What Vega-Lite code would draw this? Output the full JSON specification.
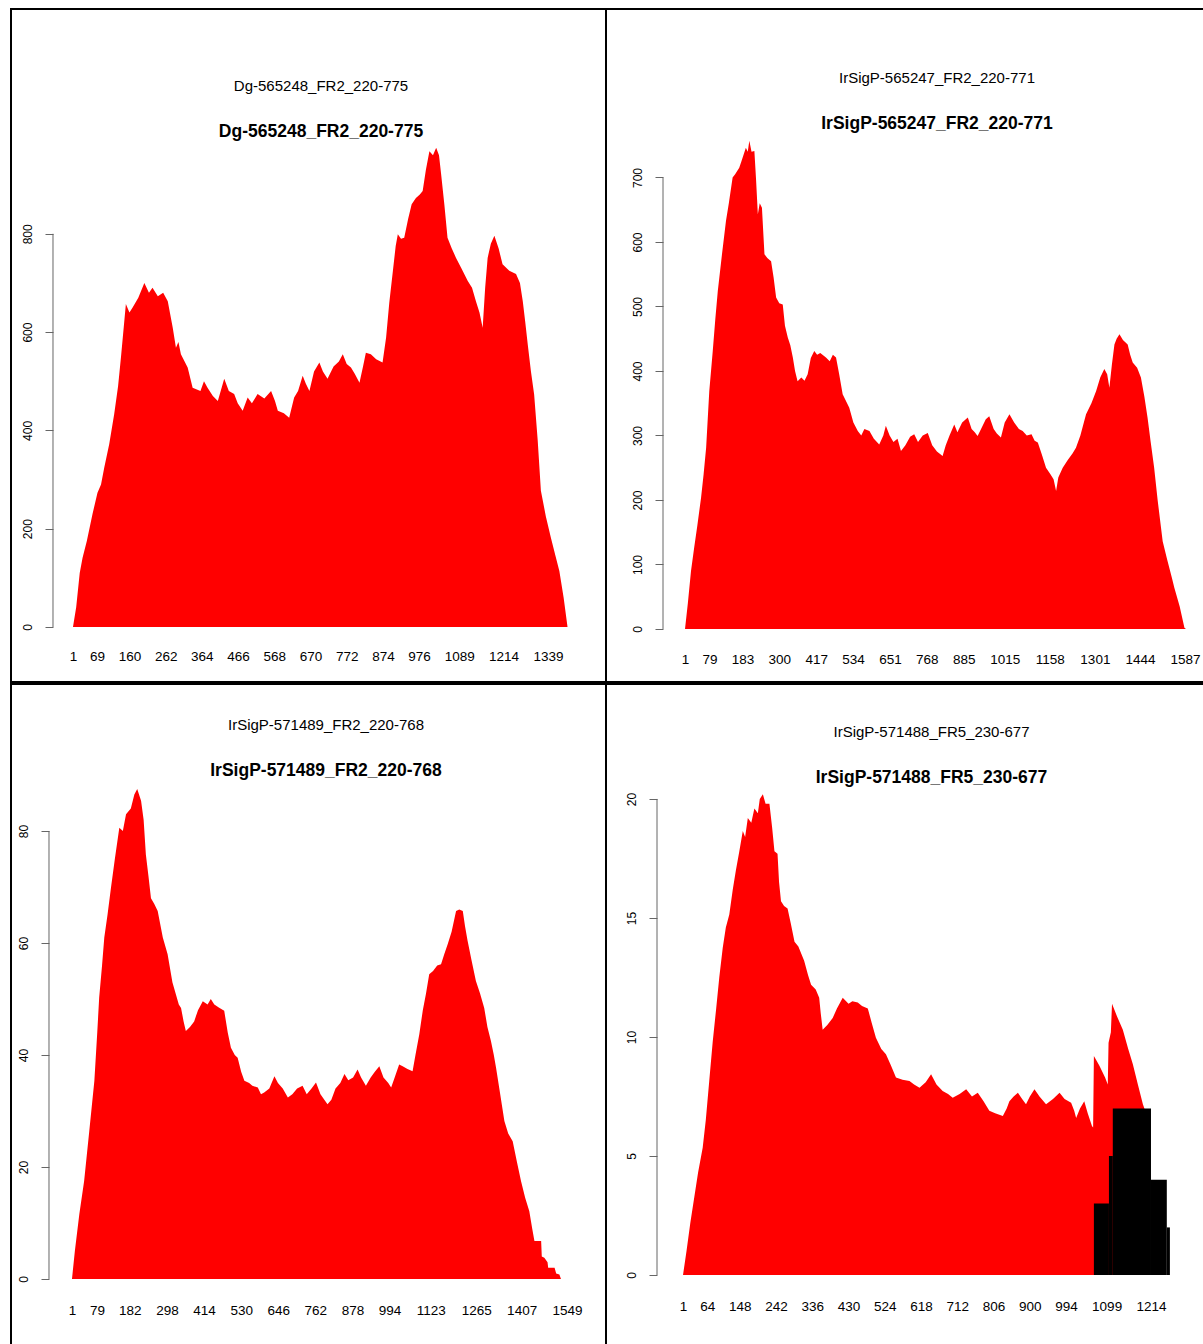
{
  "$schema": "https://vega.github.io/schema/vega-lite/v6.json",
  "background": "white",
  "padding": {"left": 10, "top": 8, "right": 0, "bottom": 0},
  "spacing": 0,
  "config": {
    "view": {"stroke": "#000", "strokeWidth": 2},
    "font": "Liberation Sans",
    "concat": {"spacing": 0},
    "axis": {"labelColor": "#000", "tickColor": "#666", "labelFont": "Liberation Sans", "grid": false, "domain": false, "title": null, "format": "d"},
    "title": {"anchor": "middle", "frame": "group", "font": "Liberation Sans", "subtitleFont": "Liberation Sans", "fontSize": 15, "fontWeight": "normal", "subtitleFontSize": 17.5, "subtitleFontWeight": "bold", "subtitlePadding": 29, "color": "#000", "subtitleColor": "#000"}
  },
  "vconcat": [
    {
      "spacing": 0,
      "bounds": "flush",
      "hconcat": [
        {
          "width": 595, "height": 673,
          "title": {"text": "Dg-565248_FR2_220-775", "subtitle": "Dg-565248_FR2_220-775", "offset": -131, "dx": 12.5},
          "layer": [
            {
              "data": {"values": [
                {"pos":1,"cov":0},{"pos":10,"cov":40},{"pos":20,"cov":110},{"pos":28,"cov":141},{"pos":40,"cov":175},{"pos":56,"cov":230},{"pos":70,"cov":273},{"pos":80,"cov":290},{"pos":89,"cov":324},{"pos":103,"cov":372},{"pos":117,"cov":433},{"pos":128,"cov":490},{"pos":136,"cov":548},{"pos":150,"cov":657},{"pos":160,"cov":640},{"pos":169,"cov":650},{"pos":185,"cov":670},{"pos":202,"cov":700},{"pos":215,"cov":680},{"pos":225,"cov":690},{"pos":240,"cov":673},{"pos":255,"cov":680},{"pos":268,"cov":663},{"pos":282,"cov":609},{"pos":291,"cov":568},{"pos":298,"cov":580},{"pos":305,"cov":555},{"pos":324,"cov":528},{"pos":338,"cov":487},{"pos":360,"cov":480},{"pos":370,"cov":500},{"pos":380,"cov":487},{"pos":395,"cov":470},{"pos":409,"cov":460},{"pos":427,"cov":505},{"pos":440,"cov":480},{"pos":455,"cov":474},{"pos":465,"cov":455},{"pos":479,"cov":440},{"pos":493,"cov":467},{"pos":505,"cov":455},{"pos":521,"cov":474},{"pos":540,"cov":465},{"pos":559,"cov":480},{"pos":570,"cov":460},{"pos":578,"cov":440},{"pos":595,"cov":435},{"pos":610,"cov":426},{"pos":624,"cov":467},{"pos":635,"cov":480},{"pos":648,"cov":511},{"pos":657,"cov":495},{"pos":667,"cov":480},{"pos":680,"cov":520},{"pos":695,"cov":538},{"pos":705,"cov":520},{"pos":718,"cov":505},{"pos":735,"cov":530},{"pos":750,"cov":540},{"pos":761,"cov":555},{"pos":772,"cov":535},{"pos":784,"cov":528},{"pos":795,"cov":515},{"pos":808,"cov":497},{"pos":818,"cov":530},{"pos":826,"cov":558},{"pos":840,"cov":555},{"pos":855,"cov":545},{"pos":873,"cov":538},{"pos":883,"cov":589},{"pos":892,"cov":660},{"pos":902,"cov":724},{"pos":910,"cov":775},{"pos":916,"cov":799},{"pos":925,"cov":790},{"pos":934,"cov":792},{"pos":945,"cov":830},{"pos":955,"cov":860},{"pos":967,"cov":873},{"pos":978,"cov":880},{"pos":986,"cov":887},{"pos":995,"cov":930},{"pos":1005,"cov":968},{"pos":1015,"cov":960},{"pos":1024,"cov":975},{"pos":1032,"cov":960},{"pos":1038,"cov":921},{"pos":1047,"cov":860},{"pos":1056,"cov":792},{"pos":1068,"cov":770},{"pos":1080,"cov":751},{"pos":1095,"cov":730},{"pos":1113,"cov":704},{"pos":1125,"cov":690},{"pos":1136,"cov":663},{"pos":1146,"cov":640},{"pos":1155,"cov":609},{"pos":1162,"cov":690},{"pos":1169,"cov":751},{"pos":1178,"cov":780},{"pos":1188,"cov":796},{"pos":1200,"cov":770},{"pos":1211,"cov":738},{"pos":1230,"cov":725},{"pos":1249,"cov":718},{"pos":1260,"cov":700},{"pos":1268,"cov":663},{"pos":1275,"cov":620},{"pos":1282,"cov":575},{"pos":1291,"cov":520},{"pos":1300,"cov":473},{"pos":1310,"cov":380},{"pos":1319,"cov":277},{"pos":1333,"cov":225},{"pos":1347,"cov":182},{"pos":1360,"cov":145},{"pos":1371,"cov":114},{"pos":1383,"cov":60},{"pos":1394,"cov":0}
              ]},
              "mark": {"type": "area", "color": "#ff0000", "interpolate": "linear"},
              "encoding": {
                "x": {"field": "pos", "type": "quantitative", "scale": {"domain": [-173.6, 1502.4], "nice": false, "zero": false},
                      "axis": {"values": [1,69,160,262,364,466,568,670,772,874,976,1089,1214,1339], "offset": -33, "labelPadding": 0, "ticks": false, "tickSize": 0, "labelFontSize": 13.5, "labelOverlap": false, "labelFlush": false, "labelBound": false}},
                "y": {"field": "cov", "type": "quantitative", "scale": {"domain": [-111.9, 1257.4], "nice": false, "zero": false},
                      "axis": {"values": [0,200,400,600,800], "offset": -42, "tickSize": 8, "labelPadding": 11, "labelAngle": -90, "labelAlign": "center", "labelBaseline": "bottom", "labelFontSize": 12, "labelOverlap": false}},
                "y2": {"datum": 0}
              }
            },
            {
              "data": {"values": [{}]},
              "mark": {"type": "rule", "color": "#666", "strokeWidth": 1},
              "encoding": {"x": {"datum": -55.3}, "y": {"datum": 0}, "y2": {"datum": 800}}
            }
          ]
        },
        {
          "width": 598, "height": 673,
          "title": {"text": "IrSigP-565247_FR2_220-771", "subtitle": "IrSigP-565247_FR2_220-771", "offset": -123, "dx": 32},
          "layer": [
            {
              "data": {"values": [
                {"pos":1,"cov":0},{"pos":10,"cov":40},{"pos":20,"cov":90},{"pos":30,"cov":126},{"pos":40,"cov":160},{"pos":52,"cov":204},{"pos":60,"cov":240},{"pos":68,"cov":281},{"pos":78,"cov":369},{"pos":89,"cov":431},{"pos":97,"cov":480},{"pos":105,"cov":524},{"pos":118,"cov":580},{"pos":131,"cov":633},{"pos":140,"cov":660},{"pos":152,"cov":700},{"pos":160,"cov":705},{"pos":173,"cov":715},{"pos":180,"cov":725},{"pos":194,"cov":746},{"pos":200,"cov":740},{"pos":205,"cov":757},{"pos":212,"cov":740},{"pos":221,"cov":741},{"pos":226,"cov":700},{"pos":232,"cov":643},{"pos":238,"cov":660},{"pos":245,"cov":653},{"pos":253,"cov":581},{"pos":262,"cov":575},{"pos":274,"cov":570},{"pos":282,"cov":545},{"pos":290,"cov":514},{"pos":300,"cov":505},{"pos":311,"cov":503},{"pos":318,"cov":470},{"pos":327,"cov":452},{"pos":335,"cov":440},{"pos":343,"cov":421},{"pos":350,"cov":400},{"pos":358,"cov":384},{"pos":370,"cov":390},{"pos":380,"cov":385},{"pos":390,"cov":395},{"pos":400,"cov":420},{"pos":411,"cov":431},{"pos":420,"cov":425},{"pos":430,"cov":428},{"pos":448,"cov":421},{"pos":460,"cov":415},{"pos":470,"cov":425},{"pos":480,"cov":421},{"pos":490,"cov":395},{"pos":501,"cov":364},{"pos":510,"cov":355},{"pos":522,"cov":343},{"pos":535,"cov":320},{"pos":549,"cov":307},{"pos":560,"cov":300},{"pos":570,"cov":310},{"pos":586,"cov":307},{"pos":600,"cov":295},{"pos":617,"cov":286},{"pos":630,"cov":300},{"pos":638,"cov":315},{"pos":650,"cov":300},{"pos":662,"cov":290},{"pos":675,"cov":295},{"pos":686,"cov":276},{"pos":700,"cov":285},{"pos":715,"cov":298},{"pos":728,"cov":302},{"pos":740,"cov":290},{"pos":755,"cov":300},{"pos":771,"cov":304},{"pos":785,"cov":285},{"pos":800,"cov":275},{"pos":818,"cov":268},{"pos":828,"cov":285},{"pos":840,"cov":300},{"pos":855,"cov":317},{"pos":865,"cov":305},{"pos":880,"cov":320},{"pos":898,"cov":328},{"pos":910,"cov":310},{"pos":920,"cov":305},{"pos":929,"cov":299},{"pos":940,"cov":310},{"pos":955,"cov":325},{"pos":966,"cov":330},{"pos":980,"cov":310},{"pos":990,"cov":303},{"pos":1003,"cov":297},{"pos":1015,"cov":320},{"pos":1030,"cov":333},{"pos":1045,"cov":320},{"pos":1060,"cov":310},{"pos":1072,"cov":307},{"pos":1085,"cov":300},{"pos":1100,"cov":302},{"pos":1110,"cov":292},{"pos":1120,"cov":289},{"pos":1133,"cov":270},{"pos":1146,"cov":250},{"pos":1160,"cov":240},{"pos":1170,"cov":232},{"pos":1178,"cov":214},{"pos":1185,"cov":235},{"pos":1199,"cov":250},{"pos":1215,"cov":262},{"pos":1230,"cov":272},{"pos":1241,"cov":281},{"pos":1255,"cov":300},{"pos":1273,"cov":333},{"pos":1290,"cov":350},{"pos":1305,"cov":369},{"pos":1318,"cov":390},{"pos":1331,"cov":403},{"pos":1340,"cov":395},{"pos":1347,"cov":374},{"pos":1355,"cov":410},{"pos":1363,"cov":441},{"pos":1370,"cov":450},{"pos":1379,"cov":457},{"pos":1390,"cov":448},{"pos":1405,"cov":441},{"pos":1413,"cov":425},{"pos":1421,"cov":413},{"pos":1435,"cov":405},{"pos":1447,"cov":390},{"pos":1458,"cov":360},{"pos":1468,"cov":328},{"pos":1478,"cov":290},{"pos":1489,"cov":250},{"pos":1500,"cov":200},{"pos":1516,"cov":136},{"pos":1530,"cov":108},{"pos":1545,"cov":80},{"pos":1553,"cov":64},{"pos":1570,"cov":35},{"pos":1585,"cov":2},{"pos":1590,"cov":0}
              ]},
              "mark": {"type": "area", "color": "#ff0000", "interpolate": "linear"},
              "encoding": {
                "x": {"field": "pos", "type": "quantitative", "scale": {"domain": [-249.6, 1647.1], "nice": false, "zero": false},
                      "axis": {"values": [1,79,183,300,417,534,651,768,885,1015,1158,1301,1444,1587], "offset": -30, "labelPadding": 0, "ticks": false, "tickSize": 0, "labelFontSize": 13.5, "labelOverlap": false, "labelFlush": false, "labelBound": false}},
                "y": {"field": "cov", "type": "quantitative", "scale": {"domain": [-82.2, 961.2], "nice": false, "zero": false},
                      "axis": {"values": [0,100,200,300,400,500,600,700], "offset": -57, "tickSize": 8, "labelPadding": 11, "labelAngle": -90, "labelAlign": "center", "labelBaseline": "bottom", "labelFontSize": 12, "labelOverlap": false}},
                "y2": {"datum": 0}
              }
            },
            {
              "data": {"values": [{}]},
              "mark": {"type": "rule", "color": "#666", "strokeWidth": 1},
              "encoding": {"x": {"datum": -68.8}, "y": {"datum": 0}, "y2": {"datum": 700}}
            }
          ]
        }
      ]
    },
    {
      "spacing": 0,
      "bounds": "flush",
      "hconcat": [
        {
          "width": 595, "height": 661,
          "title": {"text": "IrSigP-571489_FR2_220-768", "subtitle": "IrSigP-571489_FR2_220-768", "offset": -95, "dx": 17.5},
          "layer": [
            {
              "data": {"values": [
                {"pos":1,"cov":0},{"pos":10,"cov":5},{"pos":24,"cov":11.6},{"pos":39,"cov":17.5},{"pos":55,"cov":26.4},{"pos":71,"cov":35.4},{"pos":80,"cov":44},{"pos":86,"cov":50.2},{"pos":95,"cov":56},{"pos":102,"cov":61},{"pos":112,"cov":65},{"pos":123,"cov":69.9},{"pos":135,"cov":75},{"pos":149,"cov":80.6},{"pos":160,"cov":80},{"pos":170,"cov":83},{"pos":185,"cov":84},{"pos":196,"cov":86.5},{"pos":205,"cov":87.5},{"pos":217,"cov":85.4},{"pos":225,"cov":82},{"pos":232,"cov":75.8},{"pos":240,"cov":72},{"pos":248,"cov":68},{"pos":258,"cov":67},{"pos":269,"cov":65.7},{"pos":285,"cov":61},{"pos":300,"cov":58},{"pos":315,"cov":53},{"pos":326,"cov":50.8},{"pos":335,"cov":49},{"pos":342,"cov":48.4},{"pos":350,"cov":46},{"pos":357,"cov":44.3},{"pos":370,"cov":45},{"pos":383,"cov":46},{"pos":395,"cov":48},{"pos":410,"cov":49.6},{"pos":425,"cov":49},{"pos":435,"cov":50},{"pos":446,"cov":49},{"pos":460,"cov":48.5},{"pos":477,"cov":47.9},{"pos":488,"cov":44},{"pos":498,"cov":41.3},{"pos":510,"cov":40},{"pos":519,"cov":39.5},{"pos":530,"cov":37},{"pos":540,"cov":35.4},{"pos":555,"cov":35},{"pos":565,"cov":34.5},{"pos":582,"cov":34.2},{"pos":592,"cov":33},{"pos":602,"cov":33.3},{"pos":618,"cov":34},{"pos":634,"cov":36.2},{"pos":645,"cov":35},{"pos":660,"cov":34},{"pos":676,"cov":32.4},{"pos":690,"cov":33},{"pos":705,"cov":34},{"pos":722,"cov":34.5},{"pos":735,"cov":33},{"pos":750,"cov":34},{"pos":764,"cov":35.1},{"pos":778,"cov":33},{"pos":790,"cov":32},{"pos":800,"cov":31.2},{"pos":812,"cov":32},{"pos":825,"cov":34},{"pos":840,"cov":35},{"pos":853,"cov":36.6},{"pos":865,"cov":35.5},{"pos":880,"cov":36},{"pos":894,"cov":37.4},{"pos":905,"cov":36},{"pos":920,"cov":34.5},{"pos":935,"cov":36},{"pos":948,"cov":37},{"pos":962,"cov":38},{"pos":975,"cov":36},{"pos":990,"cov":35},{"pos":999,"cov":34.2},{"pos":1010,"cov":36},{"pos":1024,"cov":38.3},{"pos":1035,"cov":38},{"pos":1050,"cov":37.5},{"pos":1066,"cov":37.1},{"pos":1075,"cov":40},{"pos":1087,"cov":43.7},{"pos":1098,"cov":48},{"pos":1108,"cov":51},{"pos":1118,"cov":54.4},{"pos":1130,"cov":55},{"pos":1143,"cov":56},{"pos":1155,"cov":56.2},{"pos":1165,"cov":58},{"pos":1176,"cov":59.8},{"pos":1188,"cov":62},{"pos":1202,"cov":65.7},{"pos":1212,"cov":66},{"pos":1223,"cov":65.7},{"pos":1230,"cov":63},{"pos":1238,"cov":60.4},{"pos":1250,"cov":57},{"pos":1264,"cov":53.2},{"pos":1277,"cov":51},{"pos":1290,"cov":48.4},{"pos":1300,"cov":45},{"pos":1311,"cov":42.5},{"pos":1320,"cov":40},{"pos":1327,"cov":37.7},{"pos":1340,"cov":33},{"pos":1353,"cov":28.2},{"pos":1365,"cov":26},{"pos":1379,"cov":24.6},{"pos":1392,"cov":21},{"pos":1405,"cov":17.5},{"pos":1418,"cov":14.5},{"pos":1431,"cov":12.1},{"pos":1440,"cov":9},{"pos":1447,"cov":6.8},{"pos":1468,"cov":6.8},{"pos":1470,"cov":4},{"pos":1478,"cov":3.8},{"pos":1488,"cov":3},{"pos":1490,"cov":2},{"pos":1510,"cov":2},{"pos":1515,"cov":1},{"pos":1525,"cov":0.8},{"pos":1530,"cov":0}
              ]},
              "mark": {"type": "area", "color": "#ff0000", "interpolate": "linear"},
              "encoding": {
                "x": {"field": "pos", "type": "quantitative", "scale": {"domain": [-189.7, 1670.8], "nice": false, "zero": false},
                      "axis": {"values": [1,79,182,298,414,530,646,762,878,994,1123,1265,1407,1549], "offset": -42, "labelPadding": 0, "ticks": false, "tickSize": 0, "labelFontSize": 13.5, "labelOverlap": false, "labelFlush": false, "labelBound": false}},
                "y": {"field": "cov", "type": "quantitative", "scale": {"domain": [-11.79, 106.25], "nice": false, "zero": false},
                      "axis": {"values": [0,20,40,60,80], "offset": -38, "tickSize": 8, "labelPadding": 11, "labelAngle": -90, "labelAlign": "center", "labelBaseline": "bottom", "labelFontSize": 12, "labelOverlap": false}},
                "y2": {"datum": 0}
              }
            },
            {
              "data": {"values": [{}]},
              "mark": {"type": "rule", "color": "#666", "strokeWidth": 1},
              "encoding": {"x": {"datum": -70.9}, "y": {"datum": 0}, "y2": {"datum": 80}}
            }
          ]
        },
        {
          "width": 598, "height": 661,
          "title": {"text": "IrSigP-571488_FR5_230-677", "subtitle": "IrSigP-571488_FR5_230-677", "offset": -102, "dx": 26.5},
          "layer": [
            {
              "data": {"values": [
                {"pos":1,"cov":0},{"pos":10,"cov":1},{"pos":20,"cov":2.2},{"pos":30,"cov":3.25},{"pos":40,"cov":4.3},{"pos":52,"cov":5.35},{"pos":60,"cov":6.5},{"pos":69,"cov":8.15},{"pos":78,"cov":9.8},{"pos":87,"cov":11.2},{"pos":95,"cov":12.5},{"pos":104,"cov":13.75},{"pos":112,"cov":14.6},{"pos":121,"cov":15.15},{"pos":130,"cov":16.2},{"pos":138,"cov":17},{"pos":147,"cov":17.8},{"pos":156,"cov":18.65},{"pos":162,"cov":18.4},{"pos":169,"cov":19.2},{"pos":178,"cov":19},{"pos":186,"cov":19.6},{"pos":195,"cov":19.4},{"pos":200,"cov":20},{"pos":208,"cov":20.2},{"pos":215,"cov":19.8},{"pos":225,"cov":19.8},{"pos":232,"cov":18.8},{"pos":238,"cov":17.8},{"pos":246,"cov":17.7},{"pos":250,"cov":16.5},{"pos":255,"cov":15.7},{"pos":263,"cov":15.5},{"pos":272,"cov":15.4},{"pos":280,"cov":14.8},{"pos":290,"cov":14},{"pos":300,"cov":13.8},{"pos":315,"cov":13.2},{"pos":325,"cov":12.6},{"pos":333,"cov":12.2},{"pos":345,"cov":12},{"pos":354,"cov":11.65},{"pos":358,"cov":11},{"pos":363,"cov":10.3},{"pos":375,"cov":10.5},{"pos":389,"cov":10.8},{"pos":400,"cov":11.2},{"pos":415,"cov":11.65},{"pos":430,"cov":11.4},{"pos":440,"cov":11.5},{"pos":454,"cov":11.45},{"pos":465,"cov":11.3},{"pos":480,"cov":11.2},{"pos":490,"cov":10.6},{"pos":501,"cov":9.97},{"pos":515,"cov":9.5},{"pos":527,"cov":9.27},{"pos":540,"cov":8.8},{"pos":553,"cov":8.3},{"pos":570,"cov":8.2},{"pos":588,"cov":8.15},{"pos":600,"cov":8},{"pos":614,"cov":7.87},{"pos":630,"cov":8.1},{"pos":644,"cov":8.43},{"pos":658,"cov":8},{"pos":674,"cov":7.73},{"pos":688,"cov":7.6},{"pos":700,"cov":7.45},{"pos":718,"cov":7.6},{"pos":735,"cov":7.8},{"pos":750,"cov":7.5},{"pos":765,"cov":7.66},{"pos":780,"cov":7.3},{"pos":795,"cov":6.9},{"pos":810,"cov":6.8},{"pos":830,"cov":6.68},{"pos":840,"cov":7},{"pos":847,"cov":7.3},{"pos":858,"cov":7.5},{"pos":869,"cov":7.66},{"pos":880,"cov":7.4},{"pos":890,"cov":7.17},{"pos":900,"cov":7.5},{"pos":912,"cov":7.8},{"pos":925,"cov":7.5},{"pos":942,"cov":7.17},{"pos":960,"cov":7.4},{"pos":977,"cov":7.66},{"pos":990,"cov":7.4},{"pos":1007,"cov":7.24},{"pos":1015,"cov":6.9},{"pos":1020,"cov":6.6},{"pos":1030,"cov":7},{"pos":1041,"cov":7.3},{"pos":1050,"cov":6.8},{"pos":1061,"cov":6.26},{"pos":1064,"cov":6.2},{"pos":1066,"cov":9.2},{"pos":1080,"cov":8.8},{"pos":1095,"cov":8.3},{"pos":1102,"cov":8.0},{"pos":1104,"cov":9.76},{"pos":1110,"cov":10.2},{"pos":1113,"cov":11.4},{"pos":1125,"cov":10.9},{"pos":1141,"cov":10.3},{"pos":1155,"cov":9.5},{"pos":1167,"cov":8.85},{"pos":1180,"cov":8},{"pos":1193,"cov":7.17},{"pos":1197,"cov":7},{"pos":1200,"cov":0}
              ]},
              "mark": {"type": "area", "color": "#ff0000", "interpolate": "linear"},
              "encoding": {
                "x": {"field": "pos", "type": "quantitative", "scale": {"domain": [-198.6, 1351.4], "nice": false, "zero": false},
                      "axis": {"values": [1,64,148,242,336,430,524,618,712,806,900,994,1099,1214], "offset": -46, "labelPadding": 0, "ticks": false, "tickSize": 0, "labelFontSize": 13.5, "labelOverlap": false, "labelFlush": false, "labelBound": false}},
                "y": {"field": "cov", "type": "quantitative", "scale": {"domain": [-2.94, 24.83], "nice": false, "zero": false},
                      "axis": {"values": [0,5,10,15,20], "offset": -51, "tickSize": 8, "labelPadding": 11, "labelAngle": -90, "labelAlign": "center", "labelBaseline": "bottom", "labelFontSize": 12, "labelOverlap": false}},
                "y2": {"datum": 0}
              }
            },
            {
              "data": {"values": [
                {"start":1066,"end":1105,"n":3},{"start":1105,"end":1115,"n":5},{"start":1115,"end":1214,"n":7},{"start":1214,"end":1255,"n":4},{"start":1255,"end":1263,"n":2}
              ]},
              "mark": {"type": "bar", "color": "#000"},
              "encoding": {
                "x": {"field": "start", "type": "quantitative"},
                "x2": {"field": "end"},
                "y": {"field": "n", "type": "quantitative"},
                "y2": {"datum": 0}
              }
            },
            {
              "data": {"values": [{}]},
              "mark": {"type": "rule", "color": "#666", "strokeWidth": 1},
              "encoding": {"x": {"datum": -66.4}, "y": {"datum": 0}, "y2": {"datum": 20}}
            }
          ]
        }
      ]
    }
  ]
}
